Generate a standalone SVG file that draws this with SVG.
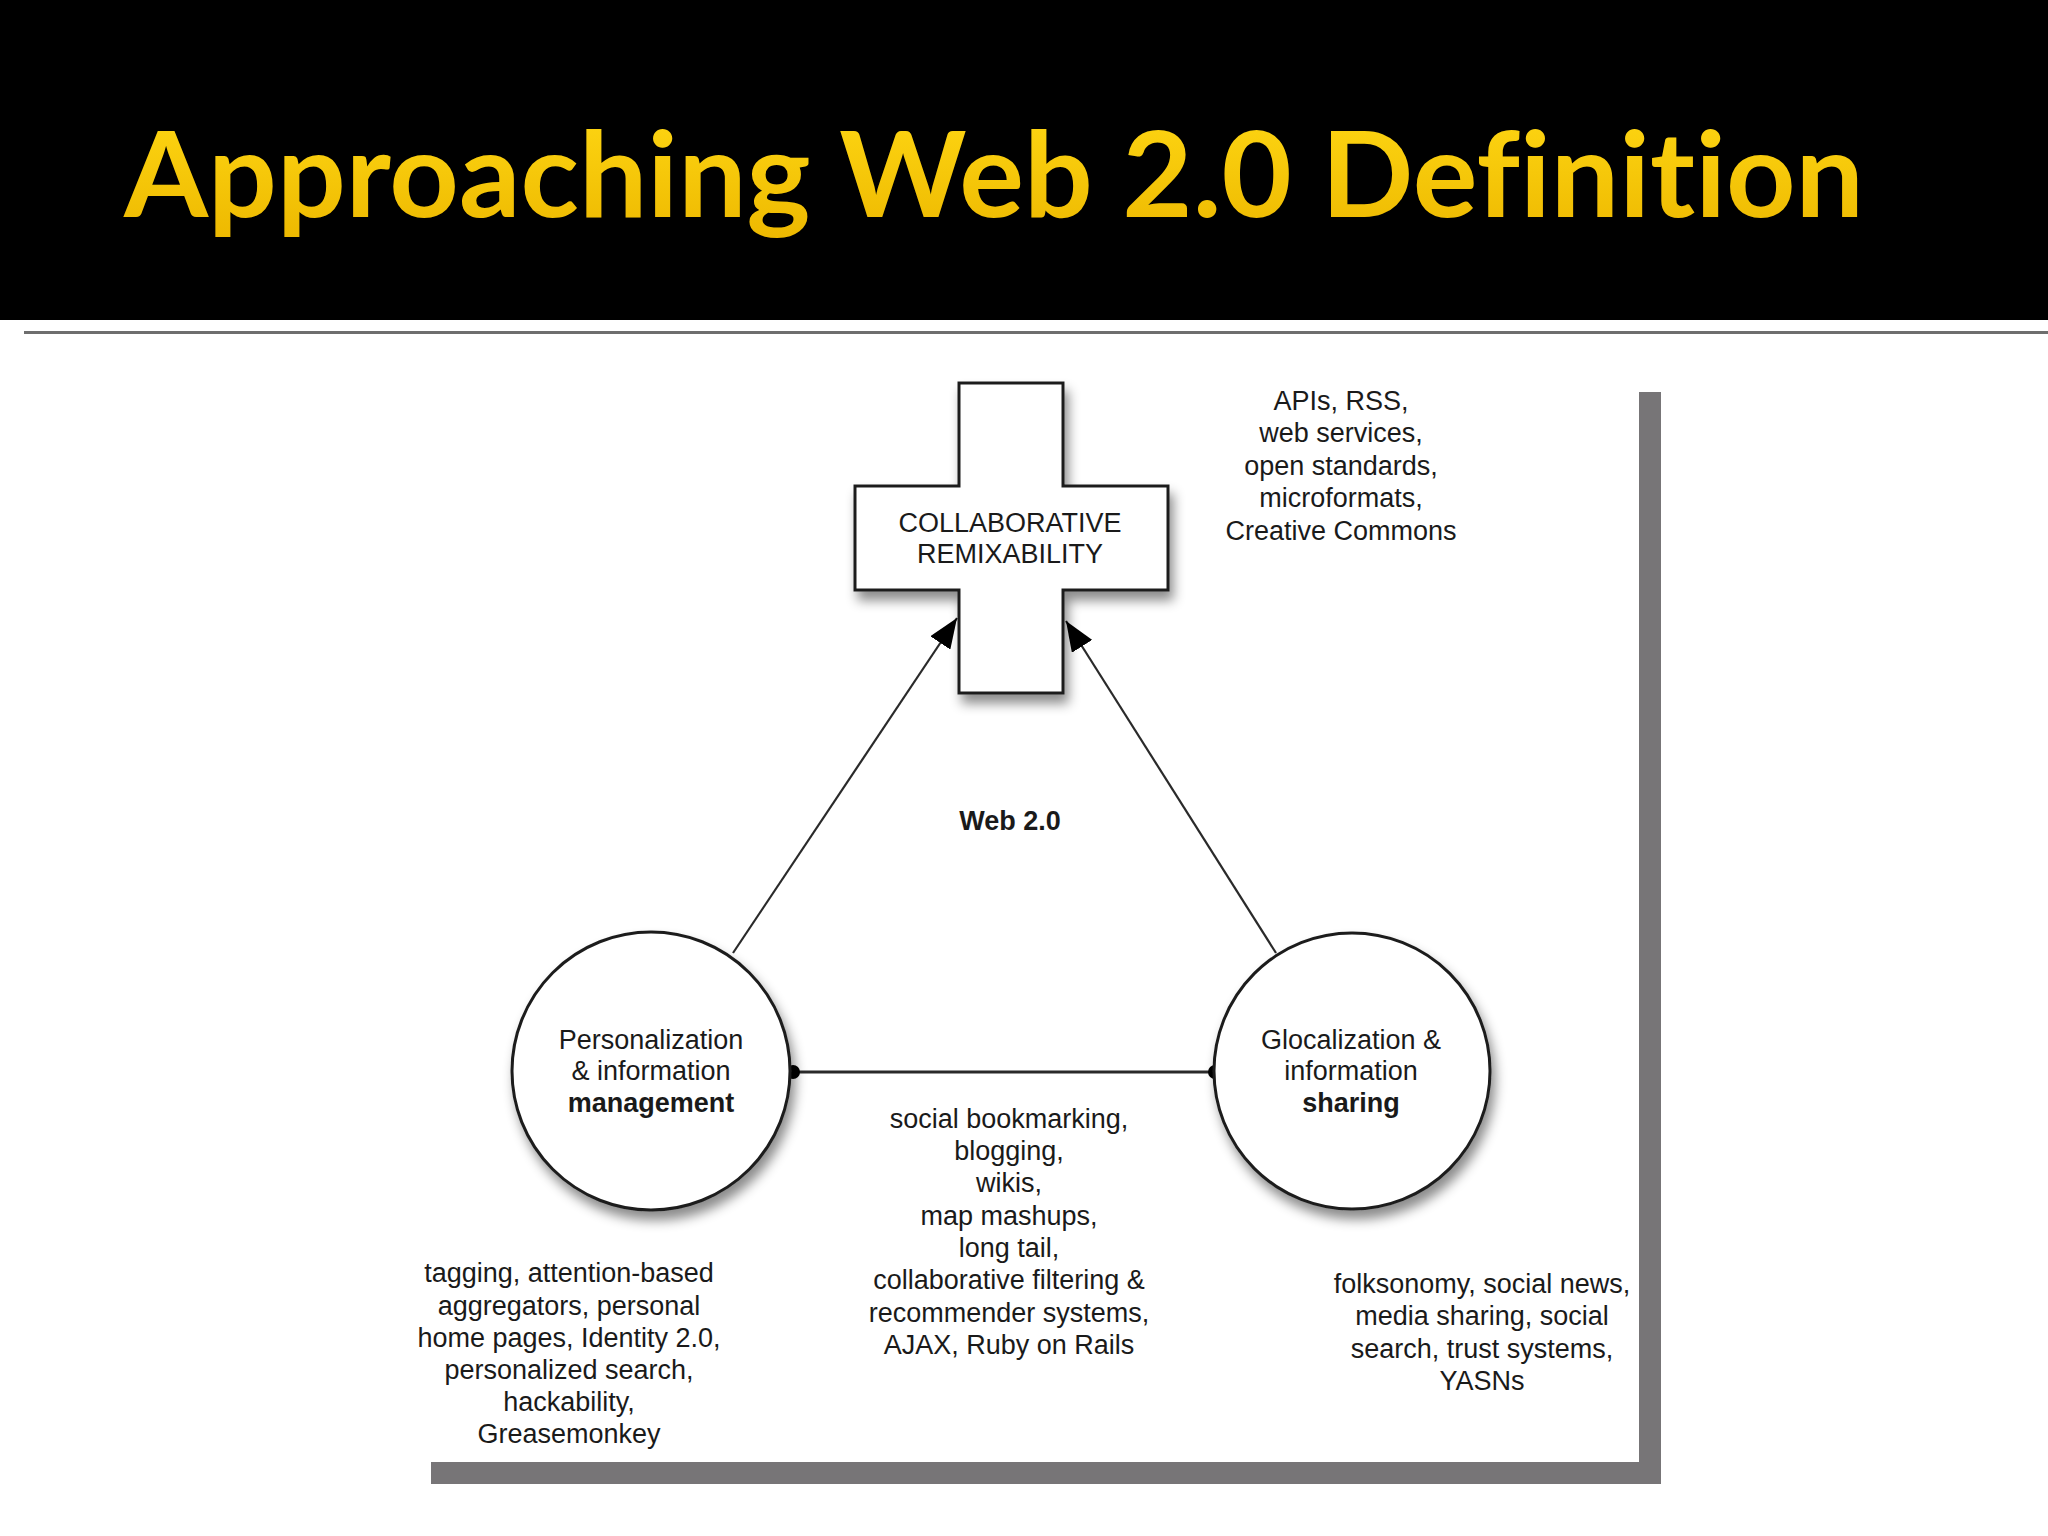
<svg xmlns="http://www.w3.org/2000/svg" width="2048" height="1536" viewBox="0 0 2048 1536">
<style>
.t{font-family:"Liberation Sans",Arial,sans-serif;font-size:27px;fill:#1a1a1a;text-anchor:middle}
.b{font-weight:bold}
.shape{fill:#fff;stroke:#1e1e1e;stroke-width:3}
.conn{stroke:#2a2a2a;stroke-width:2.2;fill:none}
</style>
<defs>
<linearGradient id="yg" x1="0" y1="0" x2="0" y2="1">
<stop offset="0" stop-color="#FFD814"/>
<stop offset="1" stop-color="#EDB800"/>
</linearGradient>
<filter id="sh" x="-20%" y="-20%" width="150%" height="150%">
<feDropShadow dx="4" dy="9" stdDeviation="6" flood-color="#000" flood-opacity="0.45"/>
</filter>
<marker id="ah" markerUnits="userSpaceOnUse" markerWidth="32" markerHeight="24" refX="30" refY="12" orient="auto">
<path d="M0,0 L30,12 L0,24 z" fill="#000"/>
</marker>
</defs>
<rect width="2048" height="1536" fill="#fff"/>
<g id="header">
<rect x="0" y="0" width="2048" height="320" fill="#000"/>
<text x="124" y="217" font-family="Lato,'Open Sans',sans-serif" font-weight="bold" font-size="118" fill="url(#yg)" style="font-variant-ligatures:none" textLength="1740" lengthAdjust="spacingAndGlyphs">Approaching Web 2.0 Definition</text>
<rect x="24" y="331" width="2024" height="3" fill="#6e6e6e"/>
</g>
<g id="frame">
<rect x="1639" y="392" width="22" height="1092" fill="#777577"/>
<rect x="431" y="1462" width="1230" height="22" fill="#777577"/>
</g>
<g id="connectors">
<line class="conn" x1="733" y1="953" x2="957" y2="618" marker-end="url(#ah)"/>
<line class="conn" x1="1276" y1="953" x2="1066" y2="621" marker-end="url(#ah)"/>
<line x1="792" y1="1072" x2="1216" y2="1072" stroke="#2a2a2a" stroke-width="3"/>
<circle cx="793" cy="1072" r="7" fill="#000"/>
<circle cx="1215" cy="1072" r="7" fill="#000"/>
</g>
<g id="node-remix">
<path class="shape" filter="url(#sh)" d="M959,383 H1063 V486 H1168 V590 H1063 V693 H959 V590 H855 V486 H959 Z"/>
<text class="t" x="1010" y="532">COLLABORATIVE</text>
<text class="t" x="1010" y="563">REMIXABILITY</text>
</g>
<g id="node-personal">
<circle class="shape" filter="url(#sh)" cx="651" cy="1071" r="139"/>
<text class="t" x="651" y="1049">Personalization</text>
<text class="t" x="651" y="1080">&amp; information</text>
<text class="t b" x="651" y="1112">management</text>
</g>
<g id="node-sharing">
<circle class="shape" filter="url(#sh)" cx="1352" cy="1071" r="138"/>
<text class="t" x="1351" y="1049">Glocalization &amp;</text>
<text class="t" x="1351" y="1080">information</text>
<text class="t b" x="1351" y="1112">sharing</text>
</g>
<g id="label-web20">
<text class="t b" x="1010" y="830">Web 2.0</text>
</g>
<g id="label-apis">
<text class="t" x="1341" y="410">APIs, RSS,</text>
<text class="t" x="1341" y="442">web services,</text>
<text class="t" x="1341" y="475">open standards,</text>
<text class="t" x="1341" y="507">microformats,</text>
<text class="t" x="1341" y="540">Creative Commons</text>
</g>
<g id="label-personal">
<text class="t" x="569" y="1282">tagging, attention-based</text>
<text class="t" x="569" y="1315">aggregators, personal</text>
<text class="t" x="569" y="1347">home pages, Identity 2.0,</text>
<text class="t" x="569" y="1379">personalized search,</text>
<text class="t" x="569" y="1411">hackability,</text>
<text class="t" x="569" y="1443">Greasemonkey</text>
</g>
<g id="label-center">
<text class="t" x="1009" y="1128">social bookmarking,</text>
<text class="t" x="1009" y="1160">blogging,</text>
<text class="t" x="1009" y="1192">wikis,</text>
<text class="t" x="1009" y="1225">map mashups,</text>
<text class="t" x="1009" y="1257">long tail,</text>
<text class="t" x="1009" y="1289">collaborative filtering &amp;</text>
<text class="t" x="1009" y="1322">recommender systems,</text>
<text class="t" x="1009" y="1354">AJAX, Ruby on Rails</text>
</g>
<g id="label-sharing">
<text class="t" x="1482" y="1293">folksonomy, social news,</text>
<text class="t" x="1482" y="1325">media sharing, social</text>
<text class="t" x="1482" y="1358">search, trust systems,</text>
<text class="t" x="1482" y="1390">YASNs</text>
</g>
</svg>
